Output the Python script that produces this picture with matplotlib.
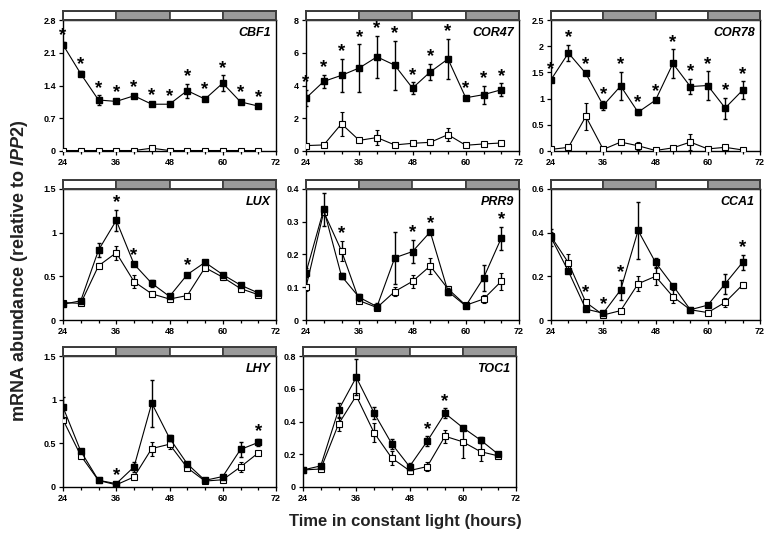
import numpy as np
import matplotlib
matplotlib.use('Agg')
import matplotlib.pyplot as plt
from matplotlib.ticker import MultipleLocator, FuncFormatter

plt.rcParams['font.family'] = ['Liberation Sans', 'DejaVu Sans']
plt.rcParams['mathtext.fontset'] = 'custom'
plt.rcParams['mathtext.it'] = 'Liberation Sans:italic:bold'
plt.rcParams['mathtext.rm'] = 'Liberation Sans:bold'

# sampling times (h in constant light)
hours = [24, 28, 32, 36, 40, 44, 48, 52, 56, 60, 64, 68]

# light / subjective dark bar above each panel
bar_edges = [24, 36, 48, 60, 72]
bar_fill = ['white', '#9a9a9a', 'white', '#9a9a9a']

# ---- CBF1
cbf1_filled = [2.27, 1.65, 1.09, 1.06, 1.18, 1.00, 1.00, 1.29, 1.11, 1.45, 1.05, 0.96]
cbf1_filled_err = [0.05, 0.05, 0.10, 0.04, 0.03, 0.03, 0.02, 0.15, 0.05, 0.17, 0.04, 0.03]
cbf1_open = [0.01, 0.01, 0.01, 0.01, 0.01, 0.06, 0.01, 0.01, 0.01, 0.01, 0.01, 0.01]
cbf1_open_err = [0, 0, 0, 0, 0, 0.01, 0, 0, 0, 0, 0, 0]
cbf1_stars = [24, 28, 32, 36, 40, 44, 48, 52, 56, 60, 64, 68]

# ---- COR47
cor47_filled = [3.23, 4.25, 4.62, 5.07, 5.75, 5.24, 3.84, 4.83, 5.62, 3.25, 3.44, 3.74]
cor47_filled_err = [0.5, 0.4, 1.0, 1.45, 1.3, 1.5, 0.35, 0.5, 1.23, 0.1, 0.55, 0.4]
cor47_open = [0.33, 0.37, 1.66, 0.65, 0.82, 0.37, 0.47, 0.53, 1.0, 0.35, 0.43, 0.49]
cor47_open_err = [0.05, 0.05, 0.73, 0.1, 0.45, 0.05, 0.05, 0.15, 0.4, 0.05, 0.05, 0.05]
cor47_stars = [24, 28, 32, 36, 40, 44, 48, 52, 56, 60, 64, 68]

# ---- COR78
cor78_filled = [1.36, 1.87, 1.48, 0.87, 1.24, 0.74, 0.97, 1.67, 1.23, 1.25, 0.82, 1.16]
cor78_filled_err = [0.05, 0.15, 0.03, 0.08, 0.27, 0.05, 0.03, 0.27, 0.15, 0.27, 0.2, 0.17]
cor78_open = [0.03, 0.07, 0.66, 0.03, 0.17, 0.10, 0.01, 0.06, 0.17, 0.04, 0.07, 0.02]
cor78_open_err = [0.01, 0.02, 0.26, 0.01, 0.02, 0.08, 0.01, 0.02, 0.16, 0.02, 0.02, 0.01]
cor78_stars = [24, 28, 32, 36, 40, 44, 48, 52, 56, 60, 64, 68]

# ---- LUX
lux_filled = [0.18, 0.22, 0.80, 1.14, 0.64, 0.42, 0.27, 0.52, 0.66, 0.52, 0.40, 0.31]
lux_filled_err = [0.02, 0.02, 0.08, 0.12, 0.02, 0.04, 0.02, 0.02, 0.02, 0.02, 0.02, 0.02]
lux_open = [0.20, 0.19, 0.62, 0.77, 0.44, 0.30, 0.24, 0.28, 0.60, 0.49, 0.36, 0.29]
lux_open_err = [0.02, 0.02, 0.03, 0.08, 0.07, 0.03, 0.02, 0.02, 0.02, 0.03, 0.02, 0.02]
lux_stars = [36, 40, 52]

# ---- PRR9
prr9_filled = [0.145, 0.338, 0.134, 0.069, 0.041, 0.19, 0.209, 0.269, 0.087, 0.043, 0.128, 0.25]
prr9_filled_err = [0.015, 0.05, 0.01, 0.01, 0.01, 0.08, 0.035, 0.005, 0.01, 0.005, 0.04, 0.035]
prr9_open = [0.10, 0.33, 0.211, 0.059, 0.038, 0.087, 0.118, 0.165, 0.095, 0.045, 0.064, 0.118]
prr9_open_err = [0.01, 0.01, 0.03, 0.005, 0.005, 0.015, 0.02, 0.025, 0.01, 0.005, 0.012, 0.025]
prr9_stars = [32, 48, 52, 68]

# ---- CCA1
cca1_filled = [0.378, 0.223, 0.05, 0.031, 0.138, 0.41, 0.264, 0.158, 0.047, 0.068, 0.166, 0.264]
cca1_filled_err = [0.04, 0.01, 0.005, 0.005, 0.045, 0.13, 0.02, 0.005, 0.005, 0.01, 0.045, 0.035]
cca1_open = [0.383, 0.262, 0.081, 0.023, 0.043, 0.166, 0.20, 0.107, 0.047, 0.034, 0.081, 0.161]
cca1_open_err = [0.02, 0.04, 0.01, 0.005, 0.005, 0.035, 0.04, 0.03, 0.005, 0.005, 0.02, 0.015]
cca1_stars = [32, 36, 40, 68]

# ---- LHY
lhy_filled = [0.915, 0.41, 0.077, 0.038, 0.23, 0.96, 0.56, 0.265, 0.076, 0.12, 0.43, 0.51]
lhy_filled_err = [0.12, 0.02, 0.01, 0.01, 0.06, 0.27, 0.03, 0.02, 0.01, 0.02, 0.09, 0.04]
lhy_open = [0.77, 0.36, 0.075, 0.025, 0.115, 0.44, 0.49, 0.22, 0.068, 0.083, 0.23, 0.39]
lhy_open_err = [0.03, 0.02, 0.01, 0.01, 0.02, 0.08, 0.06, 0.02, 0.01, 0.01, 0.06, 0.02]
lhy_stars = [36, 68]

# ---- TOC1
toc1_filled = [0.104, 0.129, 0.47, 0.67, 0.453, 0.264, 0.125, 0.28, 0.45, 0.363, 0.287, 0.20]
toc1_filled_err = [0.01, 0.01, 0.04, 0.11, 0.035, 0.03, 0.02, 0.03, 0.03, 0.01, 0.02, 0.01]
toc1_open = [0.104, 0.11, 0.384, 0.557, 0.332, 0.177, 0.10, 0.125, 0.31, 0.276, 0.216, 0.19]
toc1_open_err = [0.01, 0.01, 0.04, 0.01, 0.06, 0.04, 0.02, 0.03, 0.04, 0.10, 0.06, 0.01]
toc1_stars = [52, 56]

panels = [
    ('CBF1', cbf1_filled, cbf1_filled_err, cbf1_open, cbf1_open_err, cbf1_stars, 2.8, 0.7),
    ('COR47', cor47_filled, cor47_filled_err, cor47_open, cor47_open_err, cor47_stars, 8, 2),
    ('COR78', cor78_filled, cor78_filled_err, cor78_open, cor78_open_err, cor78_stars, 2.5, 0.5),
    ('LUX', lux_filled, lux_filled_err, lux_open, lux_open_err, lux_stars, 1.5, 0.5),
    ('PRR9', prr9_filled, prr9_filled_err, prr9_open, prr9_open_err, prr9_stars, 0.4, 0.1),
    ('CCA1', cca1_filled, cca1_filled_err, cca1_open, cca1_open_err, cca1_stars, 0.6, 0.2),
    ('LHY', lhy_filled, lhy_filled_err, lhy_open, lhy_open_err, lhy_stars, 1.5, 0.5),
    ('TOC1', toc1_filled, toc1_filled_err, toc1_open, toc1_open_err, toc1_stars, 0.8, 0.2),
]

# axes positions in pixels
W, H = 767, 533
lefts = [63, 306, 551, 63, 306, 551, 63, 303]
widths = [213, 213, 209, 213, 213, 209, 213, 213]
tops = [20, 20, 20, 189, 189, 189, 356, 356]
ph = 131

fig = plt.figure(figsize=(7.67, 5.33), dpi=100)

for i, (name, f, fe, o, oe, stars, ymax, ystep) in enumerate(panels):
    ax = fig.add_axes([lefts[i] / W, 1 - (tops[i] + ph) / H, widths[i] / W, ph / H])
    ax.errorbar(hours, o, yerr=oe, color='black', lw=0.8, elinewidth=1.0, capsize=1.2,
                marker='s', ms=4.2, mfc='white', mec='black', mew=0.8, zorder=3)
    ax.errorbar(hours, f, yerr=fe, color='black', lw=0.8, elinewidth=1.0, capsize=1.2,
                marker='s', ms=4.2, mfc='black', mec='black', zorder=4)
    for t in stars:
        k = hours.index(t)
        top = max(f[k] + fe[k], o[k] + oe[k])
        ax.annotate('*', (t, top), xytext=(0, -1), textcoords='offset points',
                    ha='center', va='bottom', fontsize=13.5, fontweight='bold')
    ax.set_xlim(24, 72)
    ax.set_ylim(0, ymax)
    ax.xaxis.set_major_locator(MultipleLocator(12))
    ax.xaxis.set_minor_locator(MultipleLocator(4))
    ax.yaxis.set_major_locator(MultipleLocator(ystep))
    ax.yaxis.set_major_formatter(FuncFormatter(lambda v, _: f'{v:g}'))
    ax.tick_params(which='both', direction='out', width=0.9, labelsize=6.5, pad=2)
    ax.tick_params(which='major', length=3)
    ax.tick_params(which='minor', length=2)
    for lab in ax.get_xticklabels() + ax.get_yticklabels():
        lab.set_fontweight('bold')
    for sp in ax.spines.values():
        sp.set_linewidth(1.0)
    ax.text(0.975, 0.9, name, transform=ax.transAxes, ha='right', va='center',
            fontsize=9, fontweight='bold', style='italic')

    # light/dark bar
    bar = ax.inset_axes([0, 1.0, 1, 0.065])
    bar.set_xlim(24, 72)
    bar.set_ylim(0, 1)
    for a, b, c in zip(bar_edges[:-1], bar_edges[1:], bar_fill):
        bar.axvspan(a, b, facecolor=c, edgecolor='#3c3c3c', lw=1.2)
    bar.set_xticks([])
    bar.set_yticks([])
    for sp in bar.spines.values():
        sp.set_color('#3c3c3c')
        sp.set_linewidth(1.4)

fig.text(0.026, 0.492, r'mRNA abundance (relative to $\mathit{IPP2}$)', rotation=90,
         ha='center', va='center', fontsize=13, fontweight='bold', color='#222222')
fig.text(0.528, 0.022, 'Time in constant light (hours)', ha='center', va='center',
         fontsize=12, fontweight='bold', color='#222222')

fig.savefig('out.png', dpi=100)
